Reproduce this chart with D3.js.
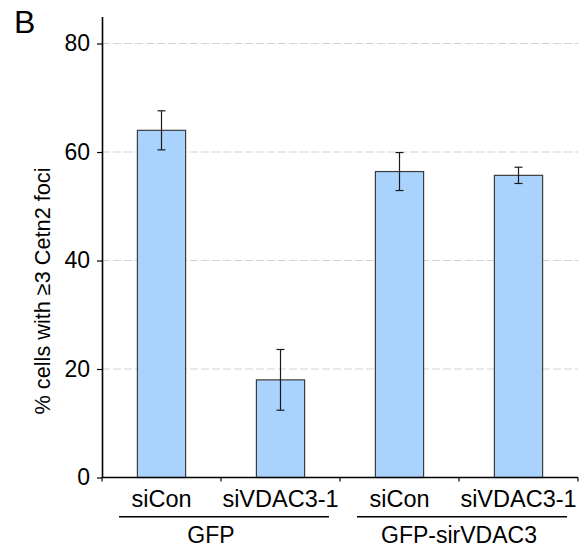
<!DOCTYPE html>
<html>
<head>
<meta charset="utf-8">
<script src="https://cdn.jsdelivr.net/npm/d3@7"></script>
<style>
  body { margin: 0; background: #fff; }
  text { font-family: "Liberation Sans", Arial, sans-serif; fill: #000; }
</style>
</head>
<body>
<div id="graph"></div>
<script>
// data
const categories = ["siCon", "siVDAC3-1", "siCon", "siVDAC3-1"];
const groups = ["GFP", "GFP-sirVDAC3"];
const means = [64.0, 18.0, 56.4, 55.7];
const errors = [3.6, 5.6, 3.5, 1.5];
const yTicks = [0, 20, 40, 60, 80];

const width = 580, height = 548;
const left = 102, right = 578, y0 = 477.5, yTop = 16.4;

const svg = d3.select("#graph")
  .append("svg")
  .attr("width", width)
  .attr("height", height);

const x = d3.scaleBand()
  .domain(d3.range(categories.length))
  .range([left, right])
  .paddingInner(0)
  .paddingOuter(0);

const y = d3.scaleLinear().domain([0, 85]).range([y0, yTop]);

// grid lines
svg.append("g")
  .selectAll("line")
  .data(yTicks.filter(d => d > 0))
  .enter().append("line")
  .attr("x1", left)
  .attr("x2", right)
  .attr("y1", d => y(d))
  .attr("y2", d => y(d))
  .attr("stroke", "#d4d4d4")
  .attr("stroke-width", 1.2)
  .attr("stroke-dasharray", "8,3");

// bars
const barW = x.bandwidth() * 0.405;
svg.append("g")
  .selectAll("rect")
  .data(means)
  .enter().append("rect")
  .attr("x", (d, i) => x(i) + x.bandwidth() / 2 - barW / 2)
  .attr("y", d => y(d))
  .attr("width", barW)
  .attr("height", d => y0 - y(d))
  .attr("fill", "#a9d3fd")
  .attr("stroke", "#3c3c3c")
  .attr("stroke-width", 1.2);

// error bars
const eb = svg.append("g").attr("stroke", "#1a1a1a").attr("stroke-width", 1.2);
means.forEach((m, i) => {
  const cx = x(i) + x.bandwidth() / 2;
  eb.append("line").attr("x1", cx).attr("x2", cx)
    .attr("y1", y(m + errors[i])).attr("y2", y(m - errors[i]));
  eb.append("line").attr("x1", cx - 4).attr("x2", cx + 4)
    .attr("y1", y(m + errors[i])).attr("y2", y(m + errors[i]));
  eb.append("line").attr("x1", cx - 4).attr("x2", cx + 4)
    .attr("y1", y(m - errors[i])).attr("y2", y(m - errors[i]));
});

// y axis
const yAxis = d3.axisLeft(y).tickValues(yTicks).tickSize(5).tickPadding(7).tickSizeOuter(0);
const gy = svg.append("g")
  .attr("transform", "translate(" + left + ",0)")
  .call(yAxis);
gy.select(".domain").attr("stroke", "#000").attr("stroke-width", 1.6);
gy.selectAll(".tick line").attr("stroke", "#000").attr("stroke-width", 1.2);
gy.selectAll(".tick text").attr("font-size", "23px").attr("fill", "#000")
  .attr("font-family", "'Liberation Sans', Arial, sans-serif");

// x axis line + ticks at band edges
const gx = svg.append("g");
gx.append("line")
  .attr("x1", left).attr("x2", right)
  .attr("y1", y0).attr("y2", y0)
  .attr("stroke", "#000").attr("stroke-width", 1.6);
const edges = d3.range(categories.length + 1).map(i => i < categories.length ? x(i) : x(i - 1) + x.bandwidth());
gx.selectAll("line.tk")
  .data(edges)
  .enter().append("line")
  .attr("class", "tk")
  .attr("x1", d => d).attr("x2", d => d)
  .attr("y1", y0).attr("y2", y0 + 4)
  .attr("stroke", "#000").attr("stroke-width", 1.2);

// category labels
svg.append("g")
  .selectAll("text")
  .data(categories)
  .enter().append("text")
  .attr("x", (d, i) => x(i) + x.bandwidth() / 2)
  .attr("y", 507)
  .attr("text-anchor", "middle")
  .attr("font-size", "23.5px")
  .text(d => d);

// group lines + labels
const bw = x.bandwidth();
groups.forEach((g, j) => {
  const gx0 = x(j * 2), gx1 = x(j * 2 + 1) + bw;
  svg.append("line")
    .attr("x1", gx0 + 17).attr("x2", gx1 - 11)
    .attr("y1", 516.7).attr("y2", 516.7)
    .attr("stroke", "#000").attr("stroke-width", 1.4);
  svg.append("text")
    .attr("x", j == 0 ? (gx0 + gx1) / 2 - 10 : (gx0 + gx1) / 2)
    .attr("y", 542.5)
    .attr("text-anchor", "middle")
    .attr("font-size", "23px")
    .text(g);
});

// y label
svg.append("text")
  .attr("transform", "translate(50,291) rotate(-90)")
  .attr("text-anchor", "middle")
  .attr("font-size", "21.7px")
  .text("% cells with \u22653 Cetn2 foci");

// panel letter
svg.append("text")
  .attr("x", 14)
  .attr("y", 33)
  .attr("font-size", "32px")
  .text("B");
</script>
</body>
</html>
